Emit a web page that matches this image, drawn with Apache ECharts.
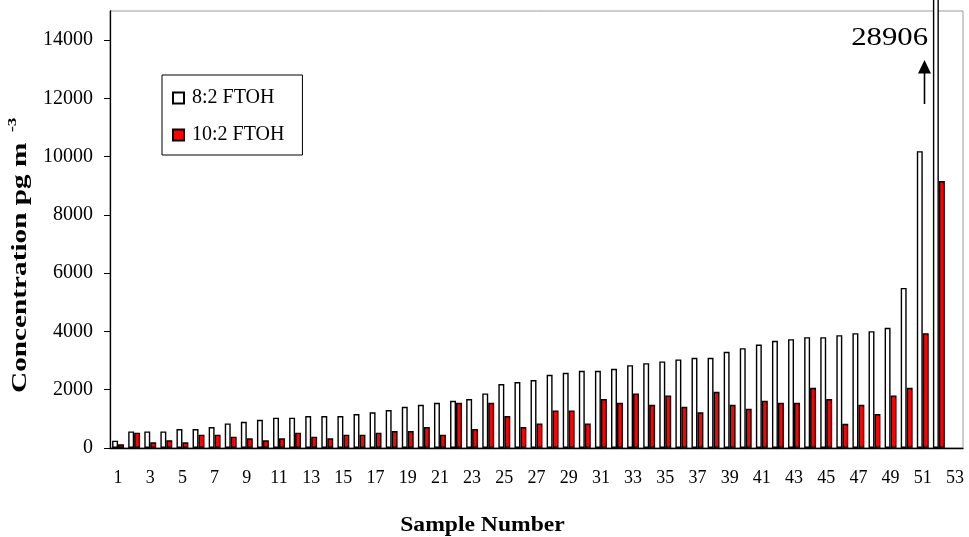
<!DOCTYPE html>
<html>
<head>
<meta charset="utf-8">
<script src="https://cdn.jsdelivr.net/npm/echarts@6/dist/echarts.min.js"></script>
<style>
html,body{margin:0;padding:0;background:#fff;}
#chart{width:969px;height:537px;}
</style>
</head>
<body>
<div id="chart"></div>
<script>
const categories = Array.from({length: 53}, (_, i) => String(i + 1));
const ftoh82 = [250, 570, 570, 570, 650, 650, 720, 845, 900, 970,
  1040, 1040, 1097, 1097, 1097, 1165, 1223, 1302, 1416, 1485,
  1553, 1622, 1679, 1873, 2193, 2262, 2330, 2513, 2581, 2650,
  2650, 2719, 2844, 2913, 2970, 3039, 3096, 3096, 3302, 3427,
  3553, 3678, 3735, 3804, 3804, 3872, 3941, 4010, 4124, 5494,
  10190, 28906, null];
const ftoh102 = [125, 525, 195, 263, 195, 457, 457, 388, 331, 263,
  331, 525, 388, 331, 457, 457, 525, 583, 583, 720,
  457, 1553, 651, 1553, 1097, 720, 845, 1290, 1290, 845,
  1679, 1553, 1873, 1485, 1805, 1416, 1223, 1930, 1485, 1347,
  1622, 1553, 1553, 2067, 1679, 833, 1485, 1165, 1805, 2067,
  3941, 9161, null];
const seriesNames = ['8:2 FTOH', '10:2 FTOH'];
const yTicks = {min: 0, max: 15000, interval: 2000};
const annotationText = '28906';
const xTitle = 'Sample Number';
const yTitle = 'Concentration pg m';
const yTitleSup = '-3';

const serif = '"Liberation Serif", "Times New Roman", serif';
const chart = echarts.init(document.getElementById('chart'));
chart.setOption({
  animation: false,
  backgroundColor: '#ffffff',
  grid: {left: 110, right: 6, top: 11, bottom: 89, show: true, borderColor: '#9a9a9a', borderWidth: 1},
  legend: {
    orient: 'vertical', left: 162, top: 75,
    padding: [13, 18, 10, 10],
    itemWidth: 11, itemHeight: 11, itemGap: 17,
    borderColor: '#000', borderWidth: 1, backgroundColor: '#fff',
    selectedMode: false,
    icon: 'rect',
    textStyle: {fontFamily: serif, fontSize: 20, color: '#000', padding: [0, 0, 0, 3]},
    data: seriesNames
  },
  xAxis: {
    type: 'category', data: categories,
    axisLine: {lineStyle: {color: '#000', width: 1.3}},
    axisTick: {show: false},
    axisLabel: {interval: 1, fontFamily: serif, fontSize: 18, color: '#000', margin: 21},
    splitLine: {show: false}
  },
  yAxis: {
    type: 'value', min: yTicks.min, max: yTicks.max, interval: yTicks.interval,
    axisLine: {show: true, lineStyle: {color: '#000', width: 1.3}},
    axisTick: {show: true, length: 6, lineStyle: {color: '#000'}},
    axisLabel: {fontFamily: serif, fontSize: 20, color: '#000', margin: 17, showMaxLabel: false,
      formatter: v => String(v)},
    splitLine: {show: false}
  },
  series: [
    {
      name: seriesNames[0], type: 'bar', data: ftoh82, clip: false,
      barCategoryGap: '26%', barGap: '0%',
      itemStyle: {color: '#ffffff', borderColor: '#000', borderWidth: 1.4}
    },
    {
      name: seriesNames[1], type: 'bar', data: ftoh102, clip: false,
      barCategoryGap: '26%', barGap: '0%',
      itemStyle: {color: '#ff0000', borderColor: '#000', borderWidth: 1.4}
    }
  ],
  graphic: [
    {
      type: 'text', x: 482.5, y: 526, scaleX: 1.18,
      style: {text: xTitle, fontFamily: serif, fontSize: 20, fontWeight: 'bold', fill: '#000',
        align: 'center', textAlign: 'center', verticalAlign: 'middle', textVerticalAlign: 'middle'}
    },
    {
      type: 'text', x: 20.5, y: 393, rotation: Math.PI / 2, scaleX: 1.33,
      style: {text: yTitle, fontFamily: serif, fontSize: 22, fontWeight: 'bold', fill: '#000',
        align: 'left', textAlign: 'left', verticalAlign: 'middle', textVerticalAlign: 'middle'}
    },
    {
      type: 'text', x: 12.6, y: 132, rotation: Math.PI / 2, scaleX: 1.33,
      style: {text: yTitleSup, fontFamily: serif, fontSize: 13, fontWeight: 'bold', fill: '#000',
        align: 'left', textAlign: 'left', verticalAlign: 'middle', textVerticalAlign: 'middle'}
    },
    {
      type: 'text', x: 928, y: 38.5, scaleX: 1.23,
      style: {text: annotationText, fontFamily: serif, fontSize: 25, fill: '#000',
        align: 'right', textAlign: 'right', verticalAlign: 'middle', textVerticalAlign: 'middle'}
    },
    {
      type: 'line', shape: {x1: 924.5, y1: 104, x2: 924.5, y2: 72},
      style: {stroke: '#000', lineWidth: 1.6}
    },
    {
      type: 'polygon', shape: {points: [[918, 73.5], [931, 73.5], [924.5, 60]]},
      style: {fill: '#000'}
    }
  ]
});
</script>
</body>
</html>
